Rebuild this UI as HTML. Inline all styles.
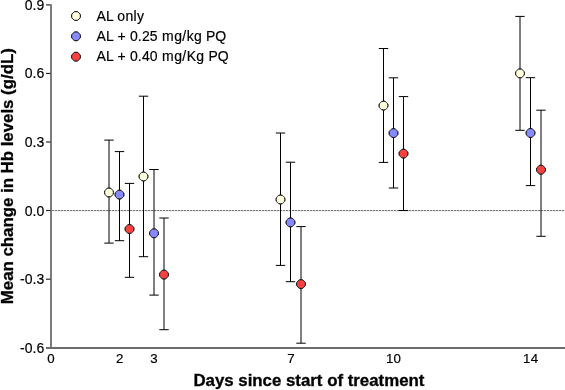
<!DOCTYPE html>
<html><head><meta charset="utf-8"><title>chart</title>
<style>
html,body{margin:0;padding:0;background:#fff;}
body{width:565px;height:390px;overflow:hidden;font-family:"Liberation Sans",sans-serif;}
svg{display:block;will-change:transform;}
text{font-family:"Liberation Sans",sans-serif;fill:#000;stroke:#000;stroke-width:0.18px;}
text.b{stroke-width:0.3px;}
</style></head><body>
<svg width="565" height="390" viewBox="0 0 565 390">
<rect width="565" height="390" fill="#fff"/>

<rect x="52" y="210" width="513" height="1" fill="#d8d8d8"/>
<rect x="52" y="211" width="513" height="1" fill="#f2f2f2"/>
<line x1="52" y1="210.5" x2="565" y2="210.5" stroke="#777" stroke-width="1" stroke-dasharray="2 1"/>
<path d="M109.0 140.1V243.1M104.3 140.1H113.7M104.3 243.1H113.7" stroke="#000" stroke-width="1" fill="none"/>
<path d="M119.5 151.6V240.7M114.8 151.6H124.2M114.8 240.7H124.2" stroke="#000" stroke-width="1" fill="none"/>
<path d="M129.5 183.4V277.3M124.8 183.4H134.2M124.8 277.3H134.2" stroke="#000" stroke-width="1" fill="none"/>
<path d="M143.5 96.2V256.7M138.8 96.2H148.2M138.8 256.7H148.2" stroke="#000" stroke-width="1" fill="none"/>
<path d="M154.0 169.5V295.1M149.3 169.5H158.7M149.3 295.1H158.7" stroke="#000" stroke-width="1" fill="none"/>
<path d="M164.0 218.0V329.7M159.3 218.0H168.7M159.3 329.7H168.7" stroke="#000" stroke-width="1" fill="none"/>
<path d="M280.5 133.0V265.4M275.8 133.0H285.2M275.8 265.4H285.2" stroke="#000" stroke-width="1" fill="none"/>
<path d="M290.5 162.2V281.7M285.8 162.2H295.2M285.8 281.7H295.2" stroke="#000" stroke-width="1" fill="none"/>
<path d="M301.0 226.6V343.2M296.3 226.6H305.7M296.3 343.2H305.7" stroke="#000" stroke-width="1" fill="none"/>
<path d="M383.5 48.5V162.4M378.8 48.5H388.2M378.8 162.4H388.2" stroke="#000" stroke-width="1" fill="none"/>
<path d="M393.5 77.8V188.0M388.8 77.8H398.2M388.8 188.0H398.2" stroke="#000" stroke-width="1" fill="none"/>
<path d="M403.5 96.6V210.5M398.8 96.6H408.2M398.8 210.5H408.2" stroke="#000" stroke-width="1" fill="none"/>
<path d="M520.0 16.4V130.3M515.3 16.4H524.7M515.3 130.3H524.7" stroke="#000" stroke-width="1" fill="none"/>
<path d="M530.5 77.7V185.6M525.8 77.7H535.2M525.8 185.6H535.2" stroke="#000" stroke-width="1" fill="none"/>
<path d="M541.0 110.2V236.3M536.3 110.2H545.7M536.3 236.3H545.7" stroke="#000" stroke-width="1" fill="none"/>
<circle cx="109.0" cy="192.5" r="4.4" fill="#ffffdc" stroke="#2a2a2a" stroke-width="1"/><path d="M104.50 190.80V194.20M113.50 190.80V194.20M107.30 188.00H110.70M107.30 197.00H110.70" stroke="#000" stroke-width="1" stroke-opacity="0.55" fill="none"/>
<circle cx="119.5" cy="194.6" r="4.4" fill="#8888ff" stroke="#2a2a2a" stroke-width="1"/><path d="M115.00 192.90V196.30M124.00 192.90V196.30M117.80 190.10H121.20M117.80 199.10H121.20" stroke="#000" stroke-width="1" stroke-opacity="0.55" fill="none"/>
<circle cx="129.5" cy="229.0" r="4.4" fill="#fb4040" stroke="#2a2a2a" stroke-width="1"/><path d="M125.00 227.30V230.70M134.00 227.30V230.70M127.80 224.50H131.20M127.80 233.50H131.20" stroke="#000" stroke-width="1" stroke-opacity="0.55" fill="none"/>
<circle cx="143.5" cy="176.5" r="4.4" fill="#ffffdc" stroke="#2a2a2a" stroke-width="1"/><path d="M139.00 174.80V178.20M148.00 174.80V178.20M141.80 172.00H145.20M141.80 181.00H145.20" stroke="#000" stroke-width="1" stroke-opacity="0.55" fill="none"/>
<circle cx="154.0" cy="233.3" r="4.4" fill="#8888ff" stroke="#2a2a2a" stroke-width="1"/><path d="M149.50 231.60V235.00M158.50 231.60V235.00M152.30 228.80H155.70M152.30 237.80H155.70" stroke="#000" stroke-width="1" stroke-opacity="0.55" fill="none"/>
<circle cx="164.0" cy="274.6" r="4.4" fill="#fb4040" stroke="#2a2a2a" stroke-width="1"/><path d="M159.50 272.90V276.30M168.50 272.90V276.30M162.30 270.10H165.70M162.30 279.10H165.70" stroke="#000" stroke-width="1" stroke-opacity="0.55" fill="none"/>
<circle cx="280.5" cy="199.5" r="4.4" fill="#ffffdc" stroke="#2a2a2a" stroke-width="1"/><path d="M276.00 197.80V201.20M285.00 197.80V201.20M278.80 195.00H282.20M278.80 204.00H282.20" stroke="#000" stroke-width="1" stroke-opacity="0.55" fill="none"/>
<circle cx="290.5" cy="222.4" r="4.4" fill="#8888ff" stroke="#2a2a2a" stroke-width="1"/><path d="M286.00 220.70V224.10M295.00 220.70V224.10M288.80 217.90H292.20M288.80 226.90H292.20" stroke="#000" stroke-width="1" stroke-opacity="0.55" fill="none"/>
<circle cx="301.0" cy="284.1" r="4.4" fill="#fb4040" stroke="#2a2a2a" stroke-width="1"/><path d="M296.50 282.40V285.80M305.50 282.40V285.80M299.30 279.60H302.70M299.30 288.60H302.70" stroke="#000" stroke-width="1" stroke-opacity="0.55" fill="none"/>
<circle cx="383.5" cy="105.6" r="4.4" fill="#ffffdc" stroke="#2a2a2a" stroke-width="1"/><path d="M379.00 103.90V107.30M388.00 103.90V107.30M381.80 101.10H385.20M381.80 110.10H385.20" stroke="#000" stroke-width="1" stroke-opacity="0.55" fill="none"/>
<circle cx="393.5" cy="133.1" r="4.4" fill="#8888ff" stroke="#2a2a2a" stroke-width="1"/><path d="M389.00 131.40V134.80M398.00 131.40V134.80M391.80 128.60H395.20M391.80 137.60H395.20" stroke="#000" stroke-width="1" stroke-opacity="0.55" fill="none"/>
<circle cx="403.5" cy="153.6" r="4.4" fill="#fb4040" stroke="#2a2a2a" stroke-width="1"/><path d="M399.00 151.90V155.30M408.00 151.90V155.30M401.80 149.10H405.20M401.80 158.10H405.20" stroke="#000" stroke-width="1" stroke-opacity="0.55" fill="none"/>
<circle cx="520.0" cy="73.4" r="4.4" fill="#ffffdc" stroke="#2a2a2a" stroke-width="1"/><path d="M515.50 71.70V75.10M524.50 71.70V75.10M518.30 68.90H521.70M518.30 77.90H521.70" stroke="#000" stroke-width="1" stroke-opacity="0.55" fill="none"/>
<circle cx="530.5" cy="133.0" r="4.4" fill="#8888ff" stroke="#2a2a2a" stroke-width="1"/><path d="M526.00 131.30V134.70M535.00 131.30V134.70M528.80 128.50H532.20M528.80 137.50H532.20" stroke="#000" stroke-width="1" stroke-opacity="0.55" fill="none"/>
<circle cx="541.0" cy="169.7" r="4.4" fill="#fb4040" stroke="#2a2a2a" stroke-width="1"/><path d="M536.50 168.00V171.40M545.50 168.00V171.40M539.30 165.20H542.70M539.30 174.20H542.70" stroke="#000" stroke-width="1" stroke-opacity="0.55" fill="none"/>
<rect x="50" y="4.3" width="2" height="344.7" fill="#7c7c7c"/>
<rect x="46" y="347" width="519" height="2" fill="#6c6c6c"/>
<line x1="46" y1="4.9" x2="50.5" y2="4.9" stroke="#2a2a2a" stroke-width="1.2"/>
<line x1="46" y1="73.45" x2="50.5" y2="73.45" stroke="#2a2a2a" stroke-width="1.2"/>
<line x1="46" y1="142.0" x2="50.5" y2="142.0" stroke="#2a2a2a" stroke-width="1.2"/>
<line x1="46" y1="210.5" x2="50.5" y2="210.5" stroke="#2a2a2a" stroke-width="1.2"/>
<line x1="46" y1="279.2" x2="50.5" y2="279.2" stroke="#2a2a2a" stroke-width="1.2"/>
<text x="44.2" y="9.90" font-size="14" text-anchor="end">0.9</text>
<text x="44.2" y="78.45" font-size="14" text-anchor="end">0.6</text>
<text x="44.2" y="147.00" font-size="14" text-anchor="end">0.3</text>
<text x="44.2" y="215.50" font-size="14" text-anchor="end">0.0</text>
<text x="44.2" y="284.20" font-size="14" text-anchor="end">-0.3</text>
<text x="44.2" y="352.70" font-size="14" text-anchor="end">-0.6</text>
<text x="51" y="363.2" font-size="13.3" text-anchor="middle">0</text>
<text x="119.7" y="363.2" font-size="13.3" text-anchor="middle">2</text>
<text x="153.9" y="363.2" font-size="13.3" text-anchor="middle">3</text>
<text x="291" y="363.2" font-size="13.3" text-anchor="middle">7</text>
<text x="386.0" y="363.2" font-size="13.3" letter-spacing="0.2">10</text>
<text x="523.1" y="363.2" font-size="13.3" letter-spacing="0.2">14</text>
<text x="193.4" y="386.0" class="b" font-size="16" font-weight="bold" textLength="231" lengthAdjust="spacingAndGlyphs">Days since start of treatment</text>
<text transform="translate(13.1 304.2) rotate(-90)" class="b" font-size="16" font-weight="bold" textLength="256" lengthAdjust="spacingAndGlyphs">Mean change in Hb levels (g/dL)</text>
<circle cx="76.0" cy="16.0" r="4.4" fill="#ffffdc" stroke="#2a2a2a" stroke-width="1"/><path d="M71.50 14.30V17.70M80.50 14.30V17.70M74.30 11.50H77.70M74.30 20.50H77.70" stroke="#000" stroke-width="1" stroke-opacity="0.55" fill="none"/>
<text x="96.6" y="20.6" font-size="14">AL</text>
<text x="117.3" y="20.6" font-size="14" letter-spacing="0.35">only</text>
<circle cx="76.0" cy="36.3" r="4.4" fill="#8888ff" stroke="#2a2a2a" stroke-width="1"/><path d="M71.50 34.60V38.00M80.50 34.60V38.00M74.30 31.80H77.70M74.30 40.80H77.70" stroke="#000" stroke-width="1" stroke-opacity="0.55" fill="none"/>
<text x="96.6" y="40.9" font-size="14" letter-spacing="0.15">AL + 0.25</text>
<text x="162.1" y="40.9" font-size="14" letter-spacing="0.4">mg/kg</text>
<text x="206.0" y="40.9" font-size="14">PQ</text>
<circle cx="76.0" cy="56.7" r="4.4" fill="#fb4040" stroke="#2a2a2a" stroke-width="1"/><path d="M71.50 55.00V58.40M80.50 55.00V58.40M74.30 52.20H77.70M74.30 61.20H77.70" stroke="#000" stroke-width="1" stroke-opacity="0.55" fill="none"/>
<text x="96.6" y="61.2" font-size="14" letter-spacing="0.15">AL + 0.40</text>
<text x="162.1" y="61.2" font-size="14" letter-spacing="0.4">mg/Kg</text>
<text x="208.4" y="61.2" font-size="14">PQ</text>
</svg></body></html>
